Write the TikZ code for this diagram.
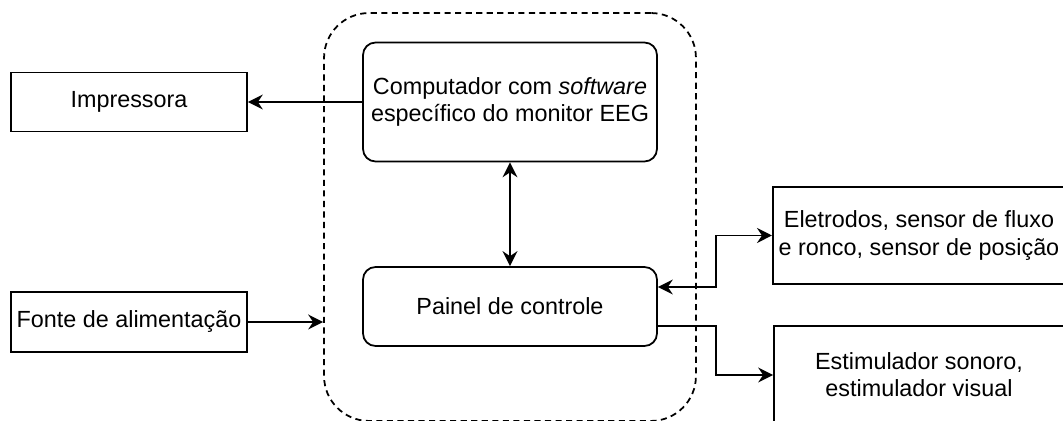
\documentclass[tikz,border=0pt]{standalone}
\usepackage{fontspec}
\setmainfont{Liberation Sans}
\usetikzlibrary{arrows.meta}

\begin{document}
\begin{tikzpicture}[line width=1pt, x=0.02cm, y=-0.02cm,
    >={Stealth[length=0.3cm, width=0.3cm, inset=0.1cm]},
    caixa/.style={draw, align=center, font=\fontsize{13.3}{15.5}\selectfont},
    rcaixa/.style={caixa, rounded corners=0.25cm}]
          \useasboundingbox (0,0) rectangle (1063,421);

          \node[draw, dash pattern=on 3.5pt off 2.5pt, rounded corners=0.9cm, minimum width=7.44cm, minimum height=8.16cm] (sis) at (510,217) {};

          \node[rcaixa, minimum width=5.88cm, minimum height=2.38cm] (comp) at (510,102) {Computador com \textit{software}\\específico do monitor EEG};
          \node[rcaixa, minimum width=5.88cm, minimum height=1.58cm] (pain) at (510,306.5) {Painel de controle};
          \node[caixa, minimum width=4.72cm, minimum height=1.18cm] (impr) at (129,102) {Impressora};
          \node[caixa, minimum width=4.72cm, minimum height=1.2cm] (fonte) at (129,322) {Fonte de alimentação};
          \node[caixa, minimum width=5.8cm, minimum height=1.94cm] (eletr) at (919,235.5) {Eletrodos, sensor de fluxo\\e ronco, sensor de posição};
          \node[caixa, minimum width=5.8cm, minimum height=1.96cm] (estim) at (919,375) {Estimulador sonoro,\\estimulador visual};


          \draw[->] (comp) -- (impr);
          \draw[<->] (comp) -- (pain);
          \draw[->] (fonte) -- (fonte -| sis.west);
          \draw[<->] ([yshift=0.39cm]pain.east) -- ++(58,0) |- (eletr);
          \draw[->] ([yshift=-0.39cm]pain.east) -- ++(58,0) |- (estim);
        \end{tikzpicture}
\end{document}
